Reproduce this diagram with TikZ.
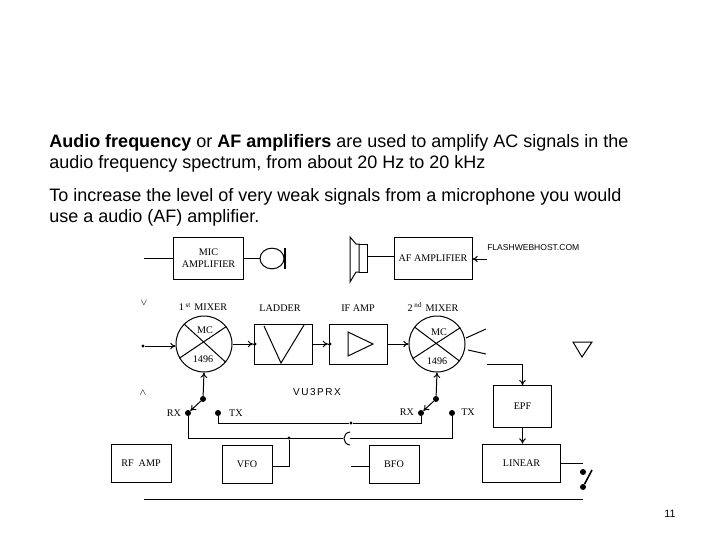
\documentclass[tikz,border=0pt]{standalone}
\usepackage{fontspec}
\setmainfont{Liberation Serif}
\setsansfont{Liberation Sans}
\usetikzlibrary{arrows.meta,shapes.geometric}
\tikzset{
  blockbox/.style={draw,line width=0.75pt,inner sep=0pt,font=\rmfamily\fontsize{7.6}{9}\selectfont,align=center},
  mixercircle/.style={draw,circle,line width=0.75pt,inner sep=0pt,minimum size=42pt},
  wire/.style={line width=0.75pt},
  feed/.style={wire,-{To[length=4pt,width=5pt]}},
  pindot/.style={circle,fill=black,inner sep=0pt,minimum size=4.5pt},
  tinydot/.style={circle,fill=black,inner sep=0pt,minimum size=2.5pt},
  slidetext/.style={anchor=base west,inner sep=0pt,font=\sffamily\fontsize{13.5}{15}\selectfont},
  blocklabel/.style={inner sep=0pt,font=\rmfamily\fontsize{7.6}{9}\selectfont}
}
\begin{document}
\begin{tikzpicture}[x=0.75pt,y=0.75pt,yscale=-1,xscale=1]
\useasboundingbox (0,0) rectangle (720,540);

% Slide text
\node (lineA) [slidetext] at (49,147) {\textbf{Audio frequency} or \textbf{AF amplifiers} are used to amplify AC signals in the};
\node (lineB) [slidetext] at (49,168.5) {audio frequency spectrum, from about 20 Hz to 20 kHz};
\node (lineC) [slidetext] at (49,201) {To increase the level of very weak signals from a microphone you would};
\node (lineD) [slidetext] at (49,222.5) {use a audio (AF) amplifier.};
\node (pageno) [inner sep=0pt,font=\sffamily\fontsize{8}{10}\selectfont] at (670,514) {11};

% Blocks
\node (micamp) [blockbox,minimum width=53pt,minimum height=31pt] at (208.5,258.5) {MIC\\AMPLIFIER};
\node (afamp) [blockbox,minimum width=58.5pt,minimum height=31pt] at (433,258.5) {AF AMPLIFIER};
\node (ladder) [blockbox,minimum width=43pt,minimum height=30pt] at (283.5,344) {};
\node (ifamp) [blockbox,minimum width=43pt,minimum height=30pt] at (358.5,344) {};
\node (epf) [blockbox,minimum width=43pt,minimum height=31pt] at (522.5,406.5) {EPF};
\node (linear) [blockbox,minimum width=59pt,minimum height=29pt] at (521.5,463.5) {LINEAR};
\node (rfamp) [blockbox,minimum width=45pt,minimum height=29pt] at (141,463.5) {RF~~AMP};
\node (vfo) [blockbox,minimum width=37.5pt,minimum height=28pt] at (247,464.5) {\raisebox{-1.5pt}{VFO}};
\node (bfo) [blockbox,minimum width=37.5pt,minimum height=28pt] at (394,464.5) {\raisebox{-1pt}{BFO}};

% Mixers
\node (mixA) [mixercircle] at (204,344) {};
\node (mixB) [mixercircle] at (437,344) {};
\draw [wire] (mixA.135) -- (mixA.-40) (mixA.38) -- (mixA.210);
\draw [wire] (mixB.143) -- (mixB.-37) (mixB.35) -- (mixB.211);
\node (mcA) [blocklabel] at (205,330) {MC};
\node (numA) [blocklabel] at (203,359) {1496};
\node (mcB) [blocklabel] at (439,332) {MC};
\node (numB) [blocklabel] at (437,361) {1496};

% Block titles
\node (titleA) [blocklabel] at (203,307) {1\,\textsuperscript{st}\,\,MIXER};
\node (titleB) [blocklabel] at (280,308) {LADDER};
\node (titleC) [blocklabel] at (358,308) {IF AMP};
\node (titleD) [blocklabel] at (433,307) {2\,\textsuperscript{nd}\,\,MIXER};
\node (website) [inner sep=0pt,anchor=west,font=\sffamily\fontsize{6.4}{7}\selectfont] at (487,248) {FLASHWEBHOST.COM};
\node (callsign) [inner sep=0pt,font=\sffamily\fontsize{7.5}{8}\selectfont\addfontfeature{LetterSpace=15}] at (317,392) {VU3PRX};
\node (markA) [inner sep=0pt,font=\sffamily\fontsize{7}{8}\selectfont] at (144,303) {$\vee$};
\node (markB) [inner sep=0pt,font=\sffamily\fontsize{7}{8}\selectfont] at (143,393) {$\wedge$};

% Switch contacts
\node (armA) [pindot] at (203,399) {};
\node (rxA) [pindot] at (188,413) {};
\node (txA) [pindot] at (218,413) {};
\node (armB) [pindot] at (436,399) {};
\node (rxB) [pindot] at (421,413) {};
\node (txB) [pindot] at (452,413) {};
\node (labelRxA) [blocklabel] at (174,413) {RX};
\node (labelTxA) [blocklabel] at (236,413) {TX};
\node (labelRxB) [blocklabel] at (407,412) {RX};
\node (labelTxB) [blocklabel] at (468,412) {TX};

% Loose ends
\coordinate (micin) at (144,258);
\node (micdisc) [draw,ellipse,wire,inner sep=0pt,minimum width=18pt,minimum height=15.5pt] at (272,258.5) {};
\coordinate (barT) at (285,248);
\coordinate (barB) at (285,269);
\coordinate (afin) at (487,259);
\node (mixin) [tinydot] at (143,346) {};
\node (ladderin) [tinydot] at (255,344) {};
\node (ifin) [tinydot] at (330,344) {};
\coordinate (mixoutA) at (466,338);
\coordinate (mixoutAe) at (486,329);
\coordinate (mixoutB) at (468,350);
\coordinate (mixoutBe) at (486,354);
\coordinate (toepf) at (487,364);
\coordinate (vfotap) at (289,438);
\node (vfodot) [tinydot] at (289,438) {};
\node (txdot) [tinydot] at (351,423) {};
\coordinate (bfoin) at (351,466);
\coordinate (linout) at (583,463);
\node (keyA) [pindot] at (583,472) {};
\node (keyB) [pindot] at (583,487) {};
\coordinate (keytop) at (592,470);
\coordinate (baseA) at (144,499);
\coordinate (baseB) at (583,499);
\coordinate (hopL) at (343,438);
\coordinate (hopR) at (350,438);

% Connectors
\draw [wire] (micin) -- (micamp.west |- micin);
\draw [wire] (micamp.east |- micdisc) -- (micdisc);
\draw [line width=1.4pt] (barT) -- (barB);
\draw [feed] (afin) -- (afamp.east |- afin);
\draw [feed] (mixin) -- (mixA.west |- mixin);
\draw [feed] (mixA.east) -- (ladderin);
\draw [wire] (ladderin) -- (ladder.west);
\draw [feed] (ladder.east) -- (ifin);
\draw [wire] (ifin) -- (ifamp.west);
\draw [feed] (ifamp.east) -- (mixB.west);
\draw [wire] (mixoutA) -- (mixoutAe);
\draw [wire] (mixoutB) -- (mixoutBe);
\draw [feed] (toepf) -| (epf.north);
\draw [feed] (epf.south) -- (linear.north -| epf.south);
\draw [wire] (linear.east |- linout) -- (linout);
\draw [line width=1.2pt] (keyB) -- (keytop);
\draw [wire] (baseA) -- (baseB);
\draw [feed] (armA) -- (mixA.south);
\draw [feed] (armB) -- (mixB.south);
\draw [feed] (armA) -- (rxA);
\draw [feed] (armB) -- (rxB);
\draw [wire] (rxA) |- (hopL);
\draw [wire] (350,432) .. controls (342,433) and (342,444) .. (350,445);
\draw [wire] (hopR) -| (txB);
\draw [wire] (txA) |- (txdot) -| (rxB);
\draw [wire] (vfo.east |- 0,466) -| (vfodot);
\draw [wire] (bfoin) -- (bfo.west |- bfoin);

% Speaker and aerial
\draw [wire] (350,237) -- (356,244) -- (359,244) -- (359,272) -- (356,272) -- (350,282) -- cycle;
\draw [wire] (359,244) -- (367,244) -- (367,272) -- (359,272);
\draw [wire] (367,256) -- (afamp.west |- 0,256);
\draw [wire] (573,342) -- (592,342) -- (582,357) -- cycle;
% Ladder and IF symbols
\draw [wire] (264,326) -- (281,363) -- (304,325);
\draw [wire] (348,332) -- (373,344) -- (348,356) -- cycle;

\end{tikzpicture}
\end{document}
